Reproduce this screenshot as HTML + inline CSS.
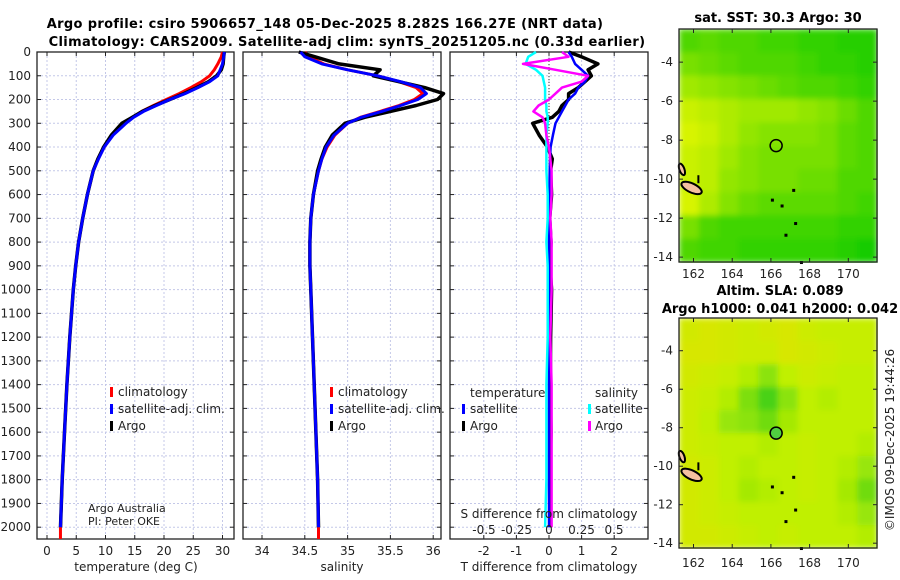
<!DOCTYPE html>
<html><head><meta charset="utf-8"><style>
body{margin:0;background:#fff;}
svg{display:block;font-family:"DejaVu Sans","Liberation Sans",sans-serif;}
.t{font-size:12px;fill:#222;}
.ti{font-size:13px;font-weight:bold;fill:#000;letter-spacing:0.35px;}
.g{stroke:#c4c8e8;stroke-width:1;stroke-dasharray:2,2;}
</style></head><body>
<svg id="fig" width="900" height="580" viewBox="0 0 900 580">
<defs>
<filter id="blur" x="0" y="0" width="100%" height="100%"><feGaussianBlur stdDeviation="3" edgeMode="duplicate"/></filter>
</defs>
<text class="ti" x="325" y="28" text-anchor="middle">Argo profile: csiro 5906657_148 05-Dec-2025 8.282S 166.27E (NRT data)</text>
<text class="ti" x="347" y="46" text-anchor="middle">Climatology: CARS2009. Satellite-adj clim: synTS_20251205.nc (0.33d earlier)</text>
<text class="ti" x="778" y="22" text-anchor="middle" style="letter-spacing:0">sat. SST: 30.3 Argo: 30</text>
<text class="ti" x="780" y="295" text-anchor="middle" style="letter-spacing:0">Altim. SLA: 0.089</text>
<text class="ti" x="780" y="313" text-anchor="middle" style="letter-spacing:0">Argo h1000: 0.041 h2000: 0.042</text>
<text class="t" transform="translate(894,440) rotate(-90)" text-anchor="middle">©IMOS 09-Dec-2025 19:44:26</text>
<g id="panels"></g>
</svg>
<script>
// ---- data ----
const depths=[0,20,50,75,100,125,150,175,200,225,250,275,300,350,400,450,500,600,700,800,900,1000,1200,1400,1600,1800,2000];
const tempClim=[30.0,29.8,29.2,28.6,27.8,26.4,24.6,22.6,20.4,18.2,16.2,14.6,13.3,11.2,9.8,8.7,7.9,6.9,6.1,5.4,4.9,4.5,3.9,3.4,3.0,2.6,2.3];
const tempSat=[30.3,30.2,30.0,29.6,29.2,27.8,25.8,23.6,21.0,18.7,16.5,14.8,13.5,11.3,9.8,8.8,7.9,6.9,6.1,5.4,4.9,4.5,3.9,3.4,3.0,2.6,2.3];
const tempArgo=[30.3,30.2,30.1,29.8,29.0,27.6,25.6,23.4,21.0,18.5,16.3,14.6,12.8,11.0,9.7,8.7,7.9,6.9,6.1,5.4,4.9,4.5,3.9,3.4,3.0,2.6,2.3];
const salClim=[34.5,34.55,34.72,35.0,35.35,35.6,35.8,35.88,35.78,35.6,35.38,35.15,35.0,34.85,34.76,34.7,34.66,34.6,34.57,34.56,34.56,34.57,34.59,34.61,34.63,34.65,34.66];
const salSat=[34.45,34.5,34.7,35.0,35.35,35.62,35.85,35.92,35.82,35.62,35.4,35.16,35.0,34.84,34.75,34.7,34.66,34.6,34.57,34.56,34.56,34.57,34.59,34.61,34.63,34.65,34.66];
const salArgo=[34.43,34.62,34.9,35.38,35.3,35.6,35.9,36.12,36.05,35.8,35.5,35.2,34.97,34.82,34.74,34.69,34.65,34.6,34.57,34.56,34.56,34.57,34.59,34.61,34.63,34.65,34.66];
const dTsat=[0.6,0.7,0.8,1.0,1.2,1.1,0.9,0.8,0.6,0.5,0.4,0.3,0.2,0.12,0.05,0.03,0.02,0.01,0,0,0,0,0,0,0,0,0];
const dTargo=[0.6,1.0,1.5,1.2,1.3,1.1,0.9,0.6,0.6,0.4,0.3,0.1,-0.5,-0.3,-0.05,0.1,0.05,0.08,0.02,0.06,0.03,0.08,0.05,0.04,0.06,0.03,0.04];
const dSsat=[-0.1,-0.16,-0.18,-0.1,-0.05,-0.04,-0.03,-0.03,-0.03,-0.02,-0.02,-0.01,-0.01,-0.02,-0.02,-0.02,-0.02,-0.01,-0.01,-0.02,-0.01,-0.01,-0.01,-0.02,-0.02,-0.02,-0.03];
const dSargo=[0.1,0.15,-0.2,0.05,0.3,0.25,0.1,0.05,0.0,-0.08,-0.12,-0.05,-0.03,-0.02,0.0,0.01,0.02,0.02,0.01,0.02,0.02,0.02,0.01,0.02,0.02,0.02,0.02];
const depthTicks=[0,100,200,300,400,500,600,700,800,900,1000,1100,1200,1300,1400,1500,1600,1700,1800,1900,2000];
const tTicks=[0,5,10,15,20,25,30];
const sTicks=[34,34.5,35,35.5,36];
const dTTicks=[-2,-1,0,1,2];
const dSTicks=[-0.5,-0.25,0,0.25,0.5];
const sstGrid=[
[.3,.35,.3,.3,.25,.25,.2,.2,.15,.15],
[.45,.4,.35,.3,.3,.3,.25,.2,.2,.15],
[.6,.55,.5,.45,.4,.35,.3,.3,.25,.2],
[.75,.7,.65,.6,.6,.6,.55,.5,.4,.3],
[.8,.75,.65,.55,.5,.5,.5,.45,.35,.3],
[.75,.7,.6,.5,.45,.45,.45,.45,.35,.3],
[.75,.7,.55,.5,.45,.45,.4,.4,.3,.3],
[.8,.65,.5,.4,.35,.35,.35,.35,.3,.25],
[.45,.3,.25,.25,.25,.25,.25,.25,.2,.2],
[.3,.25,.25,.2,.2,.2,.2,.2,.15,.1]];
const slaGrid=[
[.75,.8,.75,.7,.75,.8,.7,.65,.65,.65],
[.8,.8,.75,.7,.7,.8,.75,.7,.65,.65],
[.75,.7,.65,.55,.4,.6,.7,.65,.6,.6],
[.7,.65,.55,.35,.15,.4,.6,.55,.6,.6],
[.7,.6,.45,.4,.3,.5,.6,.6,.6,.6],
[.7,.65,.6,.6,.55,.6,.65,.6,.6,.55],
[.75,.7,.6,.55,.6,.6,.65,.6,.55,.45],
[.75,.7,.6,.5,.55,.6,.65,.6,.5,.3],
[.75,.7,.65,.6,.6,.6,.6,.6,.55,.45],
[.75,.75,.7,.65,.6,.65,.6,.6,.6,.55]];
const lonTicks=[162,164,166,168,170];
const latTicks=[-4,-6,-8,-10,-12,-14];
const argoLon=166.27, argoLat=-8.282;

// ---- helpers ----
const NS='http://www.w3.org/2000/svg';
const root=document.getElementById('panels');
function mk(tag,at,parent){const e=document.createElementNS(NS,tag);for(const k in at)e.setAttribute(k,at[k]);(parent||root).appendChild(e);return e;}
const yD=d=>52+d*0.2376;
const TOP=52,BOT=539;

function panel(name,x0,x1,xs,ticks,fmt){
  const g=mk('g',{});
  
  
  ticks.forEach(v=>{const x=xs(v);mk('line',{x1:x,x2:x,y1:TOP,y2:BOT,class:'g'},g);});
  depthTicks.forEach(d=>{const y=yD(d);mk('line',{x1:x0,x2:x1,y1:y,y2:y,class:'g'},g);
    mk('line',{x1:x0,x2:x0+4,y1:y,y2:y,stroke:'#222'},g);mk('line',{x1:x1-4,x2:x1,y1:y,y2:y,stroke:'#222'},g);});
  ticks.forEach(v=>{const x=xs(v);mk('line',{x1:x,x2:x,y1:BOT,y2:BOT-4,stroke:'#222'},g);mk('line',{x1:x,x2:x,y1:TOP,y2:TOP+4,stroke:'#222'},g);
    const t=mk('text',{x:x,y:BOT+16,'text-anchor':'middle',class:'t'},g);t.textContent=fmt?fmt(v):v;});
  mk('rect',{x:x0,y:TOP,width:x1-x0,height:BOT-TOP,fill:'none',stroke:'#222','stroke-width':1.3},g);
  return g;
}
function line(g,vals,xs,color,w,name,n){
  const k=n||vals.length;
  const pts=vals.slice(0,k).map((v,i)=>xs(v).toFixed(1)+','+yD(depths[i]).toFixed(1)).join(' ');
  const p=mk('polyline',{points:pts,fill:'none',stroke:color,'stroke-width':w,'stroke-linejoin':'round'},g);
  
  
  return p;
}
function txt(g,x,y,s,name,anchor){const t=mk('text',{x:x,y:y,class:'t','text-anchor':anchor||'start'},g);t.textContent=s;
  
  return t;}
function legBar(g,x,y,c){mk('rect',{x:x,y:y-9,width:3,height:10,fill:c},g);}

depthTicks.forEach(d=>{const t=mk('text',{x:31,y:yD(d)+4,'text-anchor':'end',class:'t'});t.textContent=d;});

// panel 1 temperature
const xT=v=>47+v*5.85;
const p1=panel('temperature-panel',37,234,xT,tTicks);
line(p1,tempClim,xT,'#f00',3,'temp-climatology-line');
mk('line',{x1:xT(2.3),x2:xT(2.3),y1:yD(2000),y2:BOT,stroke:'#f00','stroke-width':3},p1);
line(p1,tempArgo,xT,'#000',3.5,'temp-argo-line');
line(p1,tempSat,xT,'#00f',3,'temp-satellite-line');
legBar(p1,110,396,'#f00');txt(p1,118,396,'climatology','legend-climatology');
legBar(p1,110,413,'#00f');txt(p1,118,413,'satellite-adj. clim.','legend-satellite');
legBar(p1,110,430,'#000');txt(p1,118,430,'Argo','legend-argo');
const a1=txt(p1,88,512,'Argo Australia','credit-argo-australia');a1.style.fontSize='11px';
const a2=txt(p1,88,525,'PI: Peter OKE','credit-pi');a2.style.fontSize='11px';
txt(p1,136,571,'temperature (deg C)','temperature-axis-title','middle');

// panel 2 salinity
const xS=v=>262+(v-34)*85.6;
const p2=panel('salinity-panel',243,441,xS,sTicks);
line(p2,salClim,xS,'#f00',3,'sal-climatology-line');
mk('line',{x1:xS(34.66),x2:xS(34.66),y1:yD(2000),y2:BOT,stroke:'#f00','stroke-width':3},p2);
line(p2,salArgo,xS,'#000',3.5,'sal-argo-line');
line(p2,salSat,xS,'#00f',3,'sal-satellite-line');
legBar(p2,330,396,'#f00');txt(p2,338,396,'climatology','legend-climatology-2');
legBar(p2,330,413,'#00f');txt(p2,338,413,'satellite-adj. clim.','legend-satellite-2');
legBar(p2,330,430,'#000');txt(p2,338,430,'Argo','legend-argo-2');
txt(p2,342,571,'salinity','salinity-axis-title','middle');

// panel 3 differences
const xdT=v=>549+v*32.6;
const xdS=v=>549+v*130;
const p3=panel('difference-panel',450,648,xdT,dTTicks);
mk('line',{x1:549,x2:549,y1:TOP,y2:200,stroke:'#333','stroke-dasharray':'1,2'},p3);
line(p3,dTargo,xdT,'#000',3.5,'tdiff-argo-line');
line(p3,dTsat,xdT,'#00f',2.5,'tdiff-satellite-line');
line(p3,dSsat,xdS,'#0ff',2.5,'sdiff-satellite-line');
line(p3,dSargo,xdS,'#f0f',2.5,'sdiff-argo-line');
txt(p3,470,397,'temperature','legend-temperature');
txt(p3,595,397,'salinity','legend-salinity');
legBar(p3,462,413,'#00f');txt(p3,470,413,'satellite','legend-t-satellite');
legBar(p3,462,430,'#000');txt(p3,470,430,'Argo','legend-t-argo');
legBar(p3,588,413,'#0ff');txt(p3,595,413,'satellite','legend-s-satellite');
legBar(p3,588,430,'#f0f');txt(p3,595,430,'Argo','legend-s-argo');
txt(p3,549,518,'S difference from climatology','s-axis-title','middle');
dSTicks.forEach(v=>{txt(p3,xdS(v),534,String(v),'s-tick-label','middle');});
txt(p3,549,571,'T difference from climatology','t-axis-title','middle');

// maps
function lerp(a,b,t){return a.map((v,i)=>Math.round(v+(b[i]-v)*t));}
function cSST(v){const t=Math.min(1,Math.max(0,(v-0.1)/0.7));return 'rgb('+lerp([24,204,0],[215,244,0],t).join(',')+')';}
function cSLA(v){return v<0.6?'rgb('+lerp([32,200,32],[192,240,0],v/0.6).join(',')+')':'rgb('+lerp([192,240,0],[238,222,0],(v-0.6)/0.4).join(',')+')';}
function map(name,grid,top,bot,col,circleFill){
  const x0=679,x1=877;
  const lonS=v=>x0+(v-161.25)*19.35;
  const latTop=-2.3,latS=v=>top+(latTop-v)*(bot-top)/11.95;
  const g=mk('g',{});
  
  
  const cells=mk('g',{filter:'url(#blur)'},g);
  const rows=grid.length,cols=grid[0].length,cw=(x1-x0)/cols,ch=(bot-top)/rows;
  grid.forEach((r,i)=>r.forEach((v,j)=>{
    const c=mk('rect',{x:x0+j*cw,y:top+i*ch,width:cw+0.6,height:ch+0.6,fill:col(v)},cells);
    
    
  }));
  mk('ellipse',{cx:lonS(161.9),cy:latS(-10.45),rx:11,ry:4.5,fill:'#f4c0a0',stroke:'#000','stroke-width':2,transform:'rotate(25 '+lonS(161.9)+' '+latS(-10.45)+')'},g);
  mk('ellipse',{cx:lonS(161.4),cy:latS(-9.5),rx:2.5,ry:6,fill:'#f4c0a0',stroke:'#000','stroke-width':2,transform:'rotate(-20 '+lonS(161.4)+' '+latS(-9.5)+')'},g);
  mk('rect',{x:lonS(162.2),y:latS(-9.8),width:2,height:8,fill:'#000'},g);
  [[166,-11],[166.5,-11.3],[167.2,-12.2],[166.7,-12.8],[167.5,-14.2],[167.1,-10.5]].forEach(p=>mk('rect',{x:lonS(p[0]),y:latS(p[1]),width:3,height:3,fill:'#000'},g));
  const m=mk('circle',{cx:lonS(argoLon),cy:latS(argoLat),r:6,fill:circleFill,stroke:'#000','stroke-width':1.5},g);
  
  
  mk('rect',{x:x0,y:top,width:x1-x0,height:bot-top,fill:'none',stroke:'#222','stroke-width':1.3},g);
  lonTicks.forEach(v=>{const x=lonS(v);mk('line',{x1:x,x2:x,y1:bot,y2:bot-4,stroke:'#222'},g);mk('line',{x1:x,x2:x,y1:top,y2:top+4,stroke:'#222'},g);
    const t=mk('text',{x:x,y:(name==='sst-map'?bot+16:bot+19),'text-anchor':'middle',class:'t'},g);t.textContent=v;});
  latTicks.forEach(v=>{const y=latS(v);mk('line',{x1:x0,x2:x0+4,y1:y,y2:y,stroke:'#222'},g);mk('line',{x1:x1-4,x2:x1,y1:y,y2:y,stroke:'#222'},g);
    const t=mk('text',{x:673,y:y+4,'text-anchor':'end',class:'t'},g);t.textContent=v;});
}
map('sst-map',sstGrid,29,262,cSST,'none');
map('sla-map',slaGrid,318,548,cSLA,'#50d040');
</script>
</body></html>
